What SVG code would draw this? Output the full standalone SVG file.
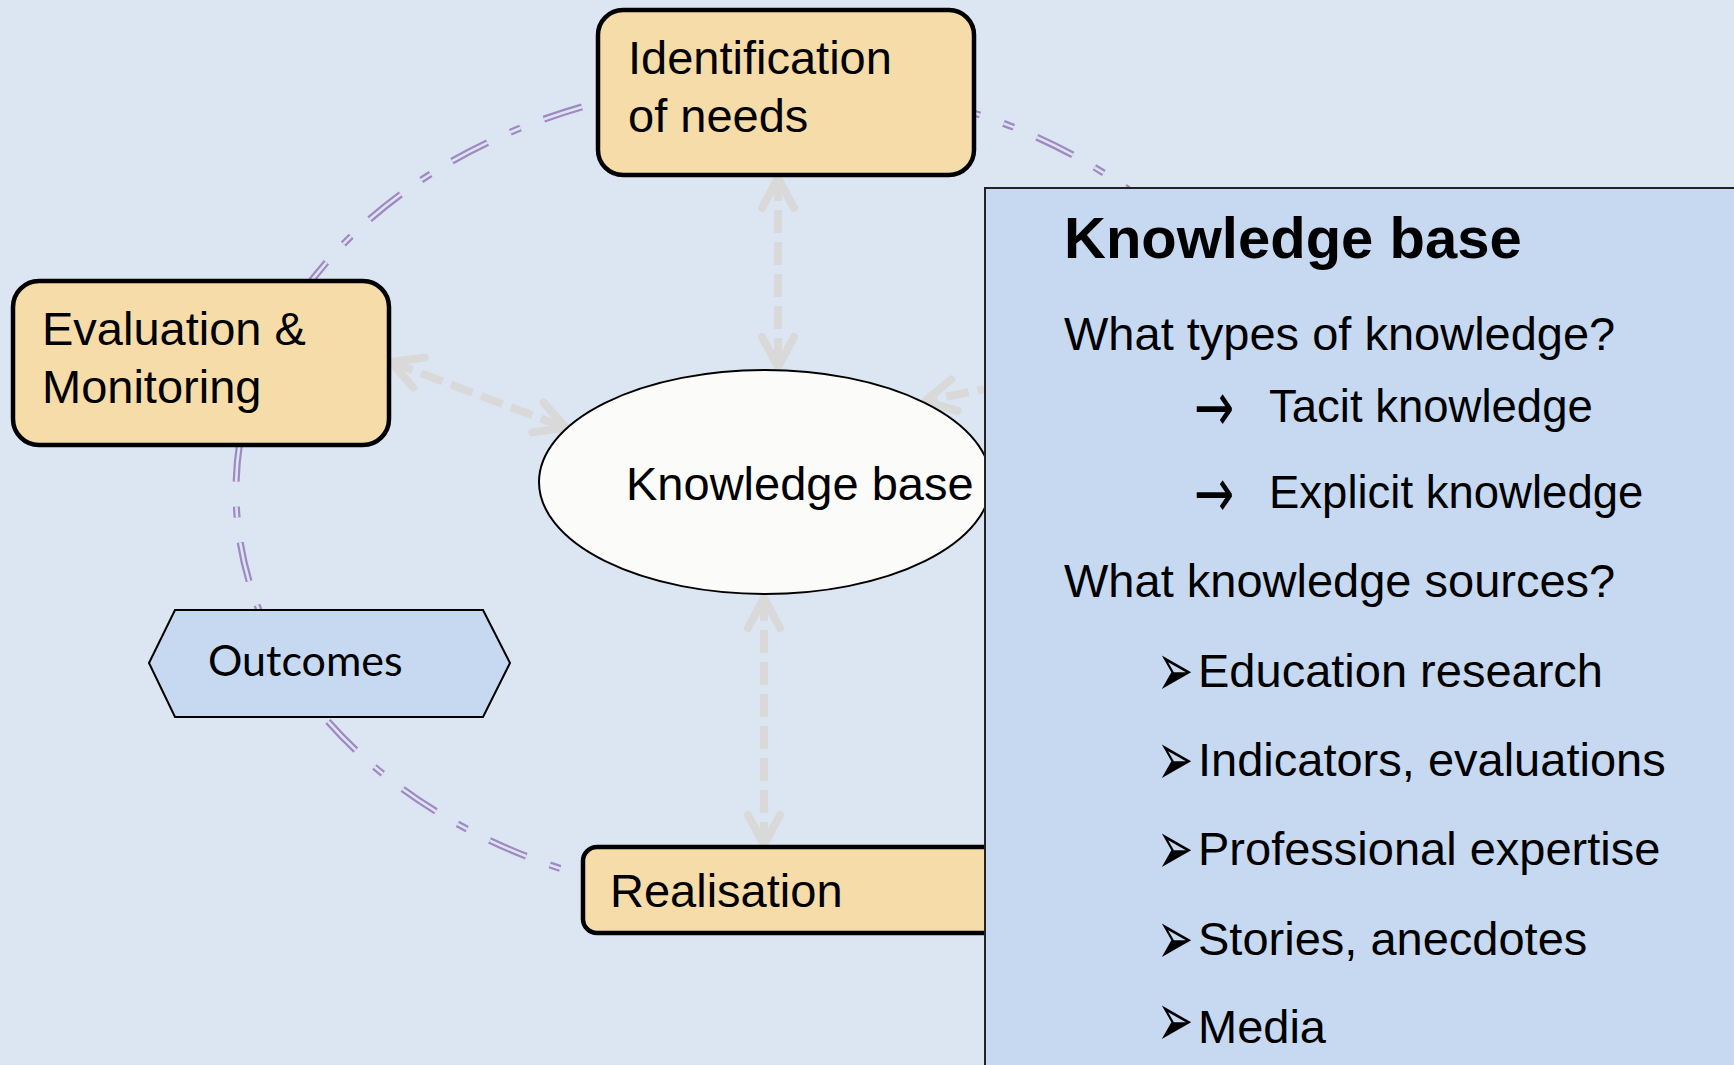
<svg xmlns="http://www.w3.org/2000/svg" width="1734" height="1065" viewBox="0 0 1734 1065">
  <style>
    .bg{fill:#dce6f2}
    .box{fill:#f6dca8;stroke:#000;stroke-width:4.5}
    .lbl{font-family:"Liberation Sans",Arial,sans-serif;font-size:47px;fill:#000}
    .sub{font-family:"Liberation Sans",Arial,sans-serif;font-size:45.5px;fill:#000}
    .ring-o{fill:none;stroke:#a088c2;stroke-width:7;stroke-dasharray:40 25 11 25;stroke-dashoffset:20}
    .ring-i{fill:none;stroke:#dce6f2;stroke-width:2.6;stroke-dasharray:40 25 11 25;stroke-dashoffset:20}
    .link{fill:none;stroke:#d9d9d9;stroke-width:8;stroke-dasharray:23 9}
    .panel{fill:#c6d9f0;stroke:#222;stroke-width:2}
    .title{font-family:"Liberation Sans",Arial,sans-serif;font-size:58px;font-weight:bold;fill:#000}
    .sym{font-family:"DejaVu Sans",sans-serif;fill:#000}
  </style>
  <defs>
    <marker id="chev" markerUnits="userSpaceOnUse" viewBox="-40 -25 50 50" markerWidth="50" markerHeight="50" refX="0" refY="0" orient="auto-start-reverse">
      <path d="M-30,-16 L0,0 L-30,16" fill="none" stroke="#d9d9d9" stroke-width="8" stroke-linecap="round" stroke-linejoin="round"/>
    </marker>
  </defs>

  <rect class="bg" x="0" y="0" width="1734" height="1065"/>

  <!-- cycle ring: double dash-dot outline -->
  <g id="cycle-ring">
    <ellipse class="ring-o" cx="768" cy="491" rx="532" ry="410"/>
    <ellipse class="ring-i" cx="768" cy="491" rx="532" ry="410"/>
  </g>

  <!-- connectors -->
  <g id="connectors">
    <path class="link" d="M778,178 L778,367" marker-start="url(#chev)" marker-end="url(#chev)"/>
    <path class="link" d="M764,598 L764,845" marker-start="url(#chev)" marker-end="url(#chev)"/>
    <path class="link" d="M391,362 L566,428" marker-start="url(#chev)" marker-end="url(#chev)"/>
    <path class="link" d="M1000,386 L925,401" marker-end="url(#chev)"/>
  </g>

  <g id="node-identification">
    <rect class="box" x="598" y="10" width="376" height="165" rx="25"/>
    <text class="lbl" x="628" y="74">Identification</text>
    <text class="lbl" x="628" y="132">of needs</text>
  </g>

  <g id="node-evaluation">
    <rect class="box" x="13" y="281" width="376" height="164" rx="26"/>
    <text class="lbl" x="42" y="345">Evaluation &amp;</text>
    <text class="lbl" x="42" y="403">Monitoring</text>
  </g>

  <g id="node-outcomes">
    <polygon points="149,663 175,610 483,610 510,663 483,717 175,717" fill="#c6d9f0" stroke="#000" stroke-width="2"/>
    <text x="208" y="676" font-family="Lato,'Open Sans',sans-serif" font-size="43" fill="#000">Outcomes</text>
  </g>

  <g id="node-realisation">
    <rect class="box" x="583" y="847" width="480" height="86" rx="14"/>
    <text class="lbl" x="610" y="907">Realisation</text>
  </g>

  <g id="node-knowledge-base">
    <ellipse cx="765" cy="482" rx="226" ry="112" fill="#fbfbf9" stroke="#000" stroke-width="2"/>
    <text class="lbl" x="626" y="500">Knowledge base</text>
  </g>

  <g id="panel-knowledge-base">
    <rect class="panel" x="985" y="188" width="760" height="890"/>
    <text class="title" x="1064" y="258">Knowledge base</text>
    <text class="lbl" x="1064" y="350">What types of knowledge?</text>
    <text class="sym" font-size="48" transform="translate(1194,431) scale(1,1.45)">→</text>
    <text class="sub" x="1269" y="422">Tacit knowledge</text>
    <text class="sym" font-size="48" transform="translate(1194,517) scale(1,1.45)">→</text>
    <text class="sub" x="1269" y="508">Explicit knowledge</text>
    <text class="lbl" x="1064" y="597">What knowledge sources?</text>
    <text class="sym" font-size="76" transform="translate(1157,696) scale(0.57,1)">➢</text>
    <text class="lbl" x="1198" y="687">Education research</text>
    <text class="sym" font-size="76" transform="translate(1157,785) scale(0.57,1)">➢</text>
    <text class="lbl" x="1198" y="776">Indicators, evaluations</text>
    <text class="sym" font-size="76" transform="translate(1157,874) scale(0.57,1)">➢</text>
    <text class="lbl" x="1198" y="865">Professional expertise</text>
    <text class="sym" font-size="76" transform="translate(1157,964) scale(0.57,1)">➢</text>
    <text class="lbl" x="1198" y="955">Stories, anecdotes</text>
    <text class="sym" font-size="76" transform="translate(1157,1046) scale(0.57,1)">➢</text>
    <text class="lbl" x="1198" y="1043">Media</text>
  </g>
</svg>
